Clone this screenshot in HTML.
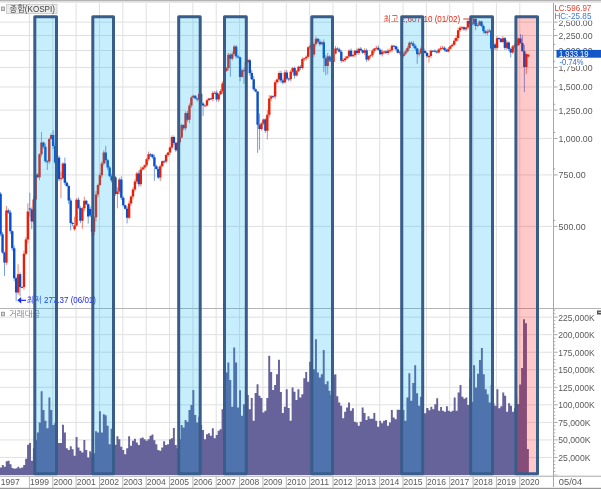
<!DOCTYPE html>
<html lang="ko"><head><meta charset="utf-8"><title>KOSPI</title>
<style>html,body{margin:0;padding:0;background:#fff;overflow:hidden}svg{display:block}</style></head>
<body>
<svg width="601" height="489" viewBox="0 0 601 489" style="display:block">
<defs><filter id="ga" filterUnits="userSpaceOnUse" x="0" y="0" width="601" height="489"><feOffset dx="0" dy="0"/></filter></defs>
<g filter="url(#ga)">
<rect x="0" y="0" width="601" height="489" fill="#fff"/>
<rect x="0" y="0" width="601" height="1.4" fill="#b4b4b4"/>
<rect x="0" y="1.4" width="601" height="1.3" fill="#dedede"/>
<rect x="0" y="487.8" width="601" height="1.2" fill="#989898"/>
<line x1="0" y1="22.15" x2="552" y2="22.15" stroke="#e0e0e0" stroke-width="1"/>
<line x1="0" y1="35.52" x2="552" y2="35.52" stroke="#e0e0e0" stroke-width="1"/>
<line x1="0" y1="50.47" x2="552" y2="50.47" stroke="#e0e0e0" stroke-width="1"/>
<line x1="0" y1="67.41" x2="552" y2="67.41" stroke="#e0e0e0" stroke-width="1"/>
<line x1="0" y1="86.97" x2="552" y2="86.97" stroke="#e0e0e0" stroke-width="1"/>
<line x1="0" y1="110.11" x2="552" y2="110.11" stroke="#e0e0e0" stroke-width="1"/>
<line x1="0" y1="138.43" x2="552" y2="138.43" stroke="#e0e0e0" stroke-width="1"/>
<line x1="0" y1="174.93" x2="552" y2="174.93" stroke="#e0e0e0" stroke-width="1"/>
<line x1="0" y1="226.39" x2="552" y2="226.39" stroke="#e0e0e0" stroke-width="1"/>
<line x1="0" y1="457.46" x2="552" y2="457.46" stroke="#e0e0e0" stroke-width="1"/>
<line x1="0" y1="439.92" x2="552" y2="439.92" stroke="#e0e0e0" stroke-width="1"/>
<line x1="0" y1="422.38" x2="552" y2="422.38" stroke="#e0e0e0" stroke-width="1"/>
<line x1="0" y1="404.84" x2="552" y2="404.84" stroke="#e0e0e0" stroke-width="1"/>
<line x1="0" y1="387.3" x2="552" y2="387.3" stroke="#e0e0e0" stroke-width="1"/>
<line x1="0" y1="369.76" x2="552" y2="369.76" stroke="#e0e0e0" stroke-width="1"/>
<line x1="0" y1="352.22" x2="552" y2="352.22" stroke="#e0e0e0" stroke-width="1"/>
<line x1="0" y1="334.68" x2="552" y2="334.68" stroke="#e0e0e0" stroke-width="1"/>
<line x1="0" y1="317.14" x2="552" y2="317.14" stroke="#e0e0e0" stroke-width="1"/>
<line x1="29.4" y1="3" x2="29.4" y2="475" stroke="#e0e0e0" stroke-width="1"/>
<line x1="52.8" y1="3" x2="52.8" y2="475" stroke="#e0e0e0" stroke-width="1"/>
<line x1="76.1" y1="3" x2="76.1" y2="475" stroke="#e0e0e0" stroke-width="1"/>
<line x1="99.5" y1="3" x2="99.5" y2="475" stroke="#e0e0e0" stroke-width="1"/>
<line x1="122.8" y1="3" x2="122.8" y2="475" stroke="#e0e0e0" stroke-width="1"/>
<line x1="146.2" y1="3" x2="146.2" y2="475" stroke="#e0e0e0" stroke-width="1"/>
<line x1="169.5" y1="3" x2="169.5" y2="475" stroke="#e0e0e0" stroke-width="1"/>
<line x1="192.9" y1="3" x2="192.9" y2="475" stroke="#e0e0e0" stroke-width="1"/>
<line x1="216.2" y1="3" x2="216.2" y2="475" stroke="#e0e0e0" stroke-width="1"/>
<line x1="239.6" y1="3" x2="239.6" y2="475" stroke="#e0e0e0" stroke-width="1"/>
<line x1="262.9" y1="3" x2="262.9" y2="475" stroke="#e0e0e0" stroke-width="1"/>
<line x1="286.3" y1="3" x2="286.3" y2="475" stroke="#e0e0e0" stroke-width="1"/>
<line x1="309.6" y1="3" x2="309.6" y2="475" stroke="#e0e0e0" stroke-width="1"/>
<line x1="333.0" y1="3" x2="333.0" y2="475" stroke="#e0e0e0" stroke-width="1"/>
<line x1="356.3" y1="3" x2="356.3" y2="475" stroke="#e0e0e0" stroke-width="1"/>
<line x1="379.7" y1="3" x2="379.7" y2="475" stroke="#e0e0e0" stroke-width="1"/>
<line x1="403.0" y1="3" x2="403.0" y2="475" stroke="#e0e0e0" stroke-width="1"/>
<line x1="426.4" y1="3" x2="426.4" y2="475" stroke="#e0e0e0" stroke-width="1"/>
<line x1="449.7" y1="3" x2="449.7" y2="475" stroke="#e0e0e0" stroke-width="1"/>
<line x1="473.1" y1="3" x2="473.1" y2="475" stroke="#e0e0e0" stroke-width="1"/>
<line x1="496.4" y1="3" x2="496.4" y2="475" stroke="#e0e0e0" stroke-width="1"/>
<line x1="519.8" y1="3" x2="519.8" y2="475" stroke="#e0e0e0" stroke-width="1"/>
<path d="M0.00 475V467.5H1.86V475ZM1.86 475V465.0H3.80V475ZM3.80 475V466.7H5.74V475ZM5.74 475V461.3H7.68V475ZM7.68 475V460.8H9.62V475ZM9.62 475V464.2H11.57V475ZM11.57 475V468.0H13.51V475ZM13.51 475V468.8H15.45V475ZM15.45 475V468.3H17.39V475ZM17.39 475V466.7H19.33V475ZM19.33 475V468.3H21.27V475ZM21.27 475V467.5H23.21V475ZM23.21 475V465.0H25.15V475ZM25.15 475V458.7H27.09V475ZM27.09 475V444.7H29.03V475ZM29.03 475V443.0H30.97V475ZM30.97 475V460.8H32.91V475ZM32.91 475V448.3H34.85V475ZM34.85 475V440.0H36.79V475ZM36.79 475V432.5H38.73V475ZM38.73 475V422.5H40.67V475ZM40.67 475V391.3H42.61V475ZM42.61 475V410.0H44.55V475ZM44.55 475V420.8H46.49V475ZM46.49 475V428.3H48.43V475ZM48.43 475V397.5H50.38V475ZM50.38 475V410.0H52.32V475ZM52.32 475V425.0H54.26V475ZM54.26 475V423.3H56.20V475ZM56.20 475V443.0H58.14V475ZM58.14 475V443.0H60.08V475ZM60.08 475V443.0H62.02V475ZM62.02 475V424.7H63.96V475ZM63.96 475V432.5H65.90V475ZM65.90 475V448.3H67.84V475ZM67.84 475V450.0H69.78V475ZM69.78 475V446.3H71.72V475ZM71.72 475V449.2H73.66V475ZM73.66 475V455.8H75.60V475ZM75.60 475V437.0H77.54V475ZM77.54 475V447.5H79.49V475ZM79.49 475V450.8H81.43V475ZM81.43 475V452.5H83.38V475ZM83.38 475V440.0H85.32V475ZM85.32 475V450.0H87.27V475ZM87.27 475V457.5H89.22V475ZM89.22 475V451.3H91.16V475ZM91.16 475V453.3H93.11V475ZM93.11 475V453.3H95.05V475ZM95.05 475V431.3H97.00V475ZM97.00 475V432.5H98.95V475ZM98.95 475V411.3H100.89V475ZM100.89 475V432.5H102.84V475ZM102.84 475V414.2H104.79V475ZM104.79 475V415.3H106.73V475ZM106.73 475V425.8H108.68V475ZM108.68 475V444.2H110.62V475ZM110.62 475V428.7H112.57V475ZM112.57 475V443.3H114.52V475ZM114.52 475V444.7H116.46V475ZM116.46 475V436.3H118.41V475ZM118.41 475V439.2H120.35V475ZM120.35 475V446.7H122.30V475ZM122.30 475V450.0H124.25V475ZM124.25 475V454.2H126.19V475ZM126.19 475V448.3H128.14V475ZM128.14 475V436.3H130.08V475ZM130.08 475V445.8H132.03V475ZM132.03 475V440.8H133.98V475ZM133.98 475V438.7H135.92V475ZM135.92 475V442.5H137.87V475ZM137.87 475V445.0H139.82V475ZM139.82 475V438.3H141.76V475ZM141.76 475V437.5H143.71V475ZM143.71 475V439.2H145.65V475ZM145.65 475V440.8H147.60V475ZM147.60 475V439.2H149.55V475ZM149.55 475V435.8H151.49V475ZM151.49 475V434.5H153.44V475ZM153.44 475V440.3H155.38V475ZM155.38 475V444.2H157.33V475ZM157.33 475V450.0H159.28V475ZM159.28 475V450.8H161.22V475ZM161.22 475V447.5H163.17V475ZM163.17 475V441.3H165.11V475ZM165.11 475V445.0H167.06V475ZM167.06 475V444.2H169.01V475ZM169.01 475V439.2H170.95V475ZM170.95 475V438.3H172.90V475ZM172.90 475V428.0H174.85V475ZM174.85 475V445.0H176.79V475ZM176.79 475V448.3H178.74V475ZM178.74 475V439.2H180.68V475ZM180.68 475V425.0H182.63V475ZM182.63 475V427.5H184.58V475ZM184.58 475V420.0H186.52V475ZM186.52 475V421.7H188.47V475ZM188.47 475V410.0H190.41V475ZM190.41 475V405.0H192.36V475ZM192.36 475V390.0H194.31V475ZM194.31 475V415.0H196.25V475ZM196.25 475V422.5H198.20V475ZM198.20 475V416.7H200.14V475ZM200.14 475V425.0H202.09V475ZM202.09 475V430.0H204.04V475ZM204.04 475V439.2H205.98V475ZM205.98 475V434.2H207.93V475ZM207.93 475V433.3H209.88V475ZM209.88 475V435.8H211.82V475ZM211.82 475V428.3H213.77V475ZM213.77 475V438.3H215.71V475ZM215.71 475V435.0H217.66V475ZM217.66 475V430.8H219.61V475ZM219.61 475V429.2H221.55V475ZM221.55 475V409.2H223.50V475ZM223.50 475V395.0H225.44V475ZM225.44 475V372.5H227.39V475ZM227.39 475V362.5H229.34V475ZM229.34 475V380.0H231.28V475ZM231.28 475V406.7H233.23V475ZM233.23 475V347.5H235.17V475ZM235.17 475V362.5H237.12V475ZM237.12 475V407.5H239.07V475ZM239.07 475V390.3H241.01V475ZM241.01 475V415.8H242.96V475ZM242.96 475V404.2H244.91V475ZM244.91 475V390.8H246.85V475ZM246.85 475V395.0H248.80V475ZM248.80 475V409.2H250.74V475ZM250.74 475V398.0H252.69V475ZM252.69 475V420.8H254.64V475ZM254.64 475V393.0H256.58V475ZM256.58 475V384.2H258.53V475ZM258.53 475V395.8H260.47V475ZM260.47 475V398.0H262.42V475ZM262.42 475V412.5H264.37V475ZM264.37 475V410.8H266.31V475ZM266.31 475V398.0H268.26V475ZM268.26 475V355.8H270.21V475ZM270.21 475V372.0H272.15V475ZM272.15 475V390.0H274.10V475ZM274.10 475V385.0H276.04V475ZM276.04 475V374.2H277.99V475ZM277.99 475V359.7H279.94V475ZM279.94 475V392.0H281.88V475ZM281.88 475V413.0H283.83V475ZM283.83 475V406.7H285.77V475ZM285.77 475V389.2H287.72V475ZM287.72 475V408.0H289.67V475ZM289.67 475V420.8H291.61V475ZM291.61 475V387.5H293.56V475ZM293.56 475V391.7H295.50V475ZM295.50 475V400.0H297.45V475ZM297.45 475V389.2H299.40V475ZM299.40 475V397.5H301.34V475ZM301.34 475V394.2H303.29V475ZM303.29 475V378.3H305.24V475ZM305.24 475V372.0H307.18V475ZM307.18 475V381.7H309.13V475ZM309.13 475V361.7H311.07V475ZM311.07 475V358.3H313.02V475ZM313.02 475V369.2H314.97V475ZM314.97 475V339.2H316.91V475ZM316.91 475V372.5H318.86V475ZM318.86 475V377.5H320.80V475ZM320.80 475V374.2H322.75V475ZM322.75 475V350.0H324.70V475ZM324.70 475V384.2H326.64V475ZM326.64 475V381.3H328.59V475ZM328.59 475V390.8H330.53V475ZM330.53 475V395.0H332.48V475ZM332.48 475V375.0H334.43V475ZM334.43 475V374.2H336.37V475ZM336.37 475V396.3H338.32V475ZM338.32 475V402.5H340.27V475ZM340.27 475V405.8H342.21V475ZM342.21 475V418.3H344.16V475ZM344.16 475V411.7H346.10V475ZM346.10 475V407.5H348.05V475ZM348.05 475V402.5H350.00V475ZM350.00 475V410.8H351.94V475ZM351.94 475V408.3H353.89V475ZM353.89 475V421.7H355.83V475ZM355.83 475V422.5H357.78V475ZM357.78 475V425.8H359.73V475ZM359.73 475V421.7H361.67V475ZM361.67 475V407.5H363.62V475ZM363.62 475V413.0H365.56V475ZM365.56 475V420.0H367.51V475ZM367.51 475V416.3H369.46V475ZM369.46 475V418.7H371.40V475ZM371.40 475V418.7H373.35V475ZM373.35 475V413.0H375.30V475ZM375.30 475V420.8H377.24V475ZM377.24 475V426.7H379.19V475ZM379.19 475V420.8H381.13V475ZM381.13 475V423.3H383.08V475ZM383.08 475V420.8H385.03V475ZM385.03 475V420.0H386.97V475ZM386.97 475V425.8H388.92V475ZM388.92 475V422.5H390.86V475ZM390.86 475V410.0H392.81V475ZM392.81 475V417.5H394.76V475ZM394.76 475V419.2H396.70V475ZM396.70 475V409.7H398.65V475ZM398.65 475V409.7H400.60V475ZM400.60 475V410.0H402.54V475ZM402.54 475V410.0H404.49V475ZM404.49 475V420.8H406.43V475ZM406.43 475V397.5H408.38V475ZM408.38 475V373.3H410.33V475ZM410.33 475V400.8H412.27V475ZM412.27 475V383.0H414.22V475ZM414.22 475V365.3H416.16V475ZM416.16 475V393.3H418.11V475ZM418.11 475V405.8H420.06V475ZM420.06 475V396.7H422.00V475ZM422.00 475V405.0H423.95V475ZM423.95 475V413.3H426.20V475ZM426.20 475V408.0H428.44V475ZM428.44 475V410.3H430.39V475ZM430.39 475V406.7H432.33V475ZM432.33 475V409.2H434.27V475ZM434.27 475V404.2H436.22V475ZM436.22 475V398.3H438.16V475ZM438.16 475V410.8H440.10V475ZM440.10 475V407.0H442.04V475ZM442.04 475V410.8H443.99V475ZM443.99 475V411.7H445.93V475ZM445.93 475V406.3H447.87V475ZM447.87 475V410.8H449.82V475ZM449.82 475V411.7H451.76V475ZM451.76 475V410.8H453.70V475ZM453.70 475V397.5H455.65V475ZM455.65 475V410.8H457.59V475ZM457.59 475V392.5H459.53V475ZM459.53 475V385.0H461.47V475ZM461.47 475V396.7H463.42V475ZM463.42 475V398.7H465.36V475ZM465.36 475V397.5H467.30V475ZM467.30 475V405.0H469.25V475ZM469.25 475V378.3H471.19V475ZM471.19 475V401.7H473.13V475ZM473.13 475V365.3H475.08V475ZM475.08 475V387.5H477.02V475ZM477.02 475V373.7H478.96V475ZM478.96 475V360.0H480.90V475ZM480.90 475V348.0H482.85V475ZM482.85 475V374.2H484.79V475ZM484.79 475V389.2H486.73V475ZM486.73 475V394.2H488.68V475ZM488.68 475V402.5H490.62V475ZM490.62 475V385.0H492.56V475ZM492.56 475V403.3H494.51V475ZM494.51 475V405.8H496.45V475ZM496.45 475V389.2H498.39V475ZM498.39 475V408.3H500.33V475ZM500.33 475V406.3H502.28V475ZM502.28 475V392.5H504.22V475ZM504.22 475V395.8H506.16V475ZM506.16 475V411.7H508.11V475ZM508.11 475V403.3H510.05V475ZM510.05 475V405.8H511.99V475ZM511.99 475V411.7H513.94V475ZM513.94 475V408.3H515.58V475ZM515.58 475V397.0H517.22V475ZM517.22 475V404.0H519.16V475ZM519.16 475V384.6H521.11V475ZM521.11 475V368.0H523.05V475ZM523.05 475V319.2H524.99V475ZM524.99 475V323.2H526.94V475ZM526.94 475V449.0H528.88V475Z" fill="#66629a"/>
<path d="M0.59 192.1V236.2M2.54 232.1V254.0M4.49 251.6V276.1" stroke="#0a4fc8" stroke-opacity="0.55" fill="none"/><path d="M-0.61 193.7H1.79V234.2H-0.61ZM1.34 234.2H3.74V252.5H1.34ZM3.29 252.5H5.69V262.6H3.29Z" fill="#0a4fc8"/>
<path d="M6.44 206.0V264.9" stroke="#e6200a" stroke-opacity="0.55" fill="none"/><path d="M5.24 210.4H7.64V262.6H5.24Z" fill="#e6200a"/>
<path d="M8.38 208.6V214.0M10.33 210.1V234.0M12.28 230.4V250.8M14.22 245.6V281.2M16.17 276.8V301.2" stroke="#0a4fc8" stroke-opacity="0.55" fill="none"/><path d="M7.18 210.4H9.58V212.5H7.18ZM9.13 212.5H11.53V231.3H9.13ZM11.08 231.3H13.48V248.2H11.08ZM13.02 248.2H15.42V278.3H13.02ZM14.97 278.3H17.37V292.5H14.97Z" fill="#0a4fc8"/>
<path d="M18.12 264.3V294.9" stroke="#e6200a" stroke-opacity="0.55" fill="none"/><path d="M16.92 274.2H19.32V292.5H16.92Z" fill="#e6200a"/>
<path d="M20.07 272.5V296.4" stroke="#0a4fc8" stroke-opacity="0.55" fill="none"/><path d="M18.87 274.2H21.27V287.1H18.87Z" fill="#0a4fc8"/>
<path d="M22.01 286.2V288.4M23.96 250.7V289.9M25.91 237.0V255.3M27.85 203.3V243.5" stroke="#e6200a" stroke-opacity="0.55" fill="none"/><path d="M20.81 287.1H23.21V288.1H20.81ZM22.76 253.8H25.16V287.1H22.76ZM24.71 239.5H27.11V253.8H24.71ZM26.65 211.6H29.05V239.5H26.65Z" fill="#e6200a"/>
<path d="M29.80 192.7V216.6M31.75 207.4V229.2" stroke="#0a4fc8" stroke-opacity="0.55" fill="none"/><path d="M28.60 208.4H31.00V209.5H28.60ZM30.55 209.5H32.95V221.4H30.55Z" fill="#0a4fc8"/>
<path d="M33.69 196.4V223.9M35.64 169.8V202.4" stroke="#e6200a" stroke-opacity="0.55" fill="none"/><path d="M32.49 199.5H34.89V221.4H32.49ZM34.44 174.6H36.84V199.5H34.44Z" fill="#e6200a"/>
<path d="M37.59 173.3V177.9" stroke="#0a4fc8" stroke-opacity="0.55" fill="none"/><path d="M36.39 174.6H38.79V177.3H36.39Z" fill="#0a4fc8"/>
<path d="M39.53 153.2V180.2M41.48 132.0V156.7" stroke="#e6200a" stroke-opacity="0.55" fill="none"/><path d="M38.33 154.2H40.73V177.3H38.33ZM40.28 142.4H42.68V154.2H40.28Z" fill="#e6200a"/>
<path d="M43.43 141.7V148.6M45.38 143.4V162.8M47.32 160.1V170.0" stroke="#0a4fc8" stroke-opacity="0.55" fill="none"/><path d="M42.23 142.4H44.63V146.7H42.23ZM44.18 146.7H46.58V161.2H44.18ZM46.12 161.2H48.52V162.2H46.12Z" fill="#0a4fc8"/>
<path d="M49.27 137.5V163.9M51.22 133.3V139.5" stroke="#e6200a" stroke-opacity="0.55" fill="none"/><path d="M48.07 138.9H50.47V161.6H48.07ZM50.02 134.9H52.42V138.9H50.02Z" fill="#e6200a"/>
<path d="M53.16 130.3V149.0M55.11 143.4V164.2" stroke="#0a4fc8" stroke-opacity="0.55" fill="none"/><path d="M51.96 134.9H54.36V145.9H51.96ZM53.91 145.9H56.31V162.4H53.91Z" fill="#0a4fc8"/>
<path d="M57.06 155.0V164.9" stroke="#e6200a" stroke-opacity="0.55" fill="none"/><path d="M55.86 157.6H58.26V162.4H55.86Z" fill="#e6200a"/>
<path d="M59.01 155.5V181.3" stroke="#0a4fc8" stroke-opacity="0.55" fill="none"/><path d="M57.80 157.6H60.21V179.2H57.80Z" fill="#0a4fc8"/>
<path d="M60.95 171.6V198.1M62.90 162.3V178.9" stroke="#e6200a" stroke-opacity="0.55" fill="none"/><path d="M59.75 178.2H62.15V179.2H59.75ZM61.70 163.5H64.10V178.2H61.70Z" fill="#e6200a"/>
<path d="M64.85 157.6V185.1M66.79 181.2V186.9M68.74 184.6V204.2M70.69 198.1V230.5M72.63 221.8V226.1" stroke="#0a4fc8" stroke-opacity="0.55" fill="none"/><path d="M63.65 163.5H66.05V182.8H63.65ZM65.59 182.8H67.99V185.9H65.59ZM67.54 185.9H69.94V200.5H67.54ZM69.49 200.5H71.89V222.9H69.49ZM71.43 222.9H73.83V224.1H71.43Z" fill="#0a4fc8"/>
<path d="M74.58 216.6V230.8M76.53 198.2V226.4" stroke="#e6200a" stroke-opacity="0.55" fill="none"/><path d="M73.38 225.4H75.78V229.2H73.38ZM75.33 199.7H77.73V225.4H75.33Z" fill="#e6200a"/>
<path d="M78.48 197.5V209.2M80.42 206.2V223.2" stroke="#0a4fc8" stroke-opacity="0.55" fill="none"/><path d="M77.28 199.7H79.68V208.0H77.28ZM79.22 208.0H81.62V220.7H79.22Z" fill="#0a4fc8"/>
<path d="M82.37 206.9V228.7M84.32 196.7V210.9" stroke="#e6200a" stroke-opacity="0.55" fill="none"/><path d="M81.17 208.2H83.57V220.7H81.17ZM83.12 200.7H85.52V208.2H83.12Z" fill="#e6200a"/>
<path d="M86.26 199.7V205.4M88.21 203.5V223.6M90.16 206.5V217.1M92.10 212.6V236.1" stroke="#0a4fc8" stroke-opacity="0.55" fill="none"/><path d="M85.06 200.7H87.46V204.3H85.06ZM87.01 204.3H89.41V216.4H87.01ZM88.96 208.9H91.36V215.5H88.96ZM90.90 215.5H93.30V231.8H90.90Z" fill="#0a4fc8"/>
<path d="M94.05 216.2V235.1M96.00 191.1V221.4M97.94 183.6V197.5M99.89 172.9V186.7M101.84 161.4V178.1M103.79 150.1V165.6" stroke="#e6200a" stroke-opacity="0.55" fill="none"/><path d="M92.85 217.3H95.25V231.8H92.85ZM94.80 194.5H97.20V217.3H94.80ZM96.74 185.0H99.14V194.5H96.74ZM98.69 175.3H101.09V185.0H98.69ZM100.64 163.6H103.04V175.3H100.64ZM102.59 152.5H104.99V163.6H102.59Z" fill="#e6200a"/>
<path d="M105.73 145.9V163.6M107.68 158.9V170.2M109.63 165.8V176.9M111.57 173.8V182.5" stroke="#0a4fc8" stroke-opacity="0.55" fill="none"/><path d="M104.53 152.5H106.93V160.3H104.53ZM106.48 160.3H108.88V167.4H106.48ZM108.43 167.4H110.83V176.3H108.43ZM110.37 176.3H112.77V180.6H110.37Z" fill="#0a4fc8"/>
<path d="M113.52 175.8V182.7" stroke="#e6200a" stroke-opacity="0.55" fill="none"/><path d="M112.32 177.3H114.72V180.6H112.32Z" fill="#e6200a"/>
<path d="M115.47 175.9V195.8" stroke="#0a4fc8" stroke-opacity="0.55" fill="none"/><path d="M114.27 177.3H116.67V193.9H114.27Z" fill="#0a4fc8"/>
<path d="M117.42 187.4V208.4M119.36 177.7V194.4" stroke="#e6200a" stroke-opacity="0.55" fill="none"/><path d="M116.22 191.5H118.62V193.9H116.22ZM118.16 179.4H120.56V191.5H118.16Z" fill="#e6200a"/>
<path d="M121.31 176.4V200.1M123.26 196.3V206.6M125.20 204.5V209.6M127.15 206.3V223.4" stroke="#0a4fc8" stroke-opacity="0.55" fill="none"/><path d="M120.11 179.4H122.51V197.7H120.11ZM122.06 197.7H124.46V205.2H122.06ZM124.00 205.2H126.40V208.7H124.00ZM125.95 208.7H128.35V217.8H125.95Z" fill="#0a4fc8"/>
<path d="M129.10 200.6V219.4M131.04 195.4V205.8M132.99 187.3V199.0M134.94 179.3V191.5M136.89 171.7V183.6" stroke="#e6200a" stroke-opacity="0.55" fill="none"/><path d="M127.90 203.5H130.30V217.8H127.90ZM129.84 196.5H132.24V203.5H129.84ZM131.79 189.4H134.19V196.5H131.79ZM133.74 181.4H136.14V189.4H133.74ZM135.69 173.4H138.09V181.4H135.69Z" fill="#e6200a"/>
<path d="M138.83 170.6V186.8" stroke="#0a4fc8" stroke-opacity="0.55" fill="none"/><path d="M137.63 173.4H140.03V184.2H137.63Z" fill="#0a4fc8"/>
<path d="M140.78 166.5V186.5M142.73 166.6V170.2M144.67 164.5V169.5M146.62 158.2V166.9M148.57 151.6V160.8" stroke="#e6200a" stroke-opacity="0.55" fill="none"/><path d="M139.58 169.6H141.98V184.2H139.58ZM141.53 167.4H143.93V169.6H141.53ZM143.47 165.2H145.87V167.4H143.47ZM145.42 159.3H147.82V165.2H145.42ZM147.37 154.2H149.77V159.3H147.37Z" fill="#e6200a"/>
<path d="M150.51 153.1V157.0M152.46 153.8V158.7M154.41 154.6V180.8M156.36 164.7V169.7M158.30 167.1V179.0" stroke="#0a4fc8" stroke-opacity="0.55" fill="none"/><path d="M149.31 154.2H151.71V155.2H149.31ZM151.26 154.6H153.66V157.3H151.26ZM153.21 157.3H155.61V166.3H153.21ZM155.16 166.3H157.56V169.1H155.16ZM157.10 169.1H159.50V177.5H157.10Z" fill="#0a4fc8"/>
<path d="M160.25 164.4V181.0M162.20 160.4V167.2" stroke="#e6200a" stroke-opacity="0.55" fill="none"/><path d="M159.05 166.3H161.45V177.5H159.05ZM161.00 161.3H163.40V166.3H161.00Z" fill="#e6200a"/>
<path d="M164.14 160.1V163.4" stroke="#0a4fc8" stroke-opacity="0.55" fill="none"/><path d="M162.94 161.3H165.34V162.3H162.94Z" fill="#0a4fc8"/>
<path d="M166.09 153.5V163.5M168.04 151.9V156.8M169.98 146.3V154.6M171.93 135.4V149.0" stroke="#e6200a" stroke-opacity="0.55" fill="none"/><path d="M164.89 154.9H167.29V161.5H164.89ZM166.84 152.5H169.24V154.9H166.84ZM168.78 147.4H171.18V152.5H168.78ZM170.73 137.0H173.13V147.4H170.73Z" fill="#e6200a"/>
<path d="M173.88 135.6V145.0M175.83 142.0V151.9" stroke="#0a4fc8" stroke-opacity="0.55" fill="none"/><path d="M172.68 137.0H175.08V142.9H172.68ZM174.63 142.9H177.03V150.3H174.63Z" fill="#0a4fc8"/>
<path d="M177.77 141.5V150.9M179.72 136.3V144.3M181.67 123.5V138.5" stroke="#e6200a" stroke-opacity="0.55" fill="none"/><path d="M176.57 142.3H178.97V150.3H176.57ZM178.52 137.4H180.92V142.3H178.52ZM180.47 125.1H182.87V137.4H180.47Z" fill="#e6200a"/>
<path d="M183.61 124.2V130.3" stroke="#0a4fc8" stroke-opacity="0.55" fill="none"/><path d="M182.41 125.1H184.81V128.3H182.41Z" fill="#0a4fc8"/>
<path d="M185.56 111.4V130.7" stroke="#e6200a" stroke-opacity="0.55" fill="none"/><path d="M184.36 113.1H186.76V128.3H184.36Z" fill="#e6200a"/>
<path d="M187.51 110.8V121.8" stroke="#0a4fc8" stroke-opacity="0.55" fill="none"/><path d="M186.31 113.1H188.71V119.8H186.31Z" fill="#0a4fc8"/>
<path d="M189.45 103.4V123.3M191.40 95.8V107.8M193.35 94.6V98.2" stroke="#e6200a" stroke-opacity="0.55" fill="none"/><path d="M188.25 105.4H190.65V119.8H188.25ZM190.20 97.6H192.60V105.4H190.20ZM192.15 95.8H194.55V97.6H192.15Z" fill="#e6200a"/>
<path d="M195.30 95.1V99.3M197.24 97.7V101.6" stroke="#0a4fc8" stroke-opacity="0.55" fill="none"/><path d="M194.10 95.8H196.50V98.4H194.10ZM196.04 98.4H198.44V99.5H196.04Z" fill="#0a4fc8"/>
<path d="M199.19 92.9V100.8" stroke="#e6200a" stroke-opacity="0.55" fill="none"/><path d="M197.99 94.0H200.39V99.5H197.99Z" fill="#e6200a"/>
<path d="M201.14 92.9V105.4M203.08 102.2V116.1" stroke="#0a4fc8" stroke-opacity="0.55" fill="none"/><path d="M199.94 94.0H202.34V103.5H199.94ZM201.88 103.5H204.28V105.6H201.88Z" fill="#0a4fc8"/>
<path d="M205.03 104.5V106.0M206.98 98.6V106.5M208.92 97.9V100.8" stroke="#e6200a" stroke-opacity="0.55" fill="none"/><path d="M203.83 105.4H206.23V106.4H203.83ZM205.78 100.2H208.18V105.4H205.78ZM207.72 98.4H210.12V100.2H207.72Z" fill="#e6200a"/>
<path d="M210.87 97.9V100.0" stroke="#0a4fc8" stroke-opacity="0.55" fill="none"/><path d="M209.67 98.4H212.07V99.4H209.67Z" fill="#0a4fc8"/>
<path d="M212.82 91.0V101.4M214.77 90.9V94.0" stroke="#e6200a" stroke-opacity="0.55" fill="none"/><path d="M211.62 92.9H214.02V99.0H211.62ZM213.57 92.7H215.97V93.7H213.57Z" fill="#e6200a"/>
<path d="M216.71 90.3V101.7" stroke="#0a4fc8" stroke-opacity="0.55" fill="none"/><path d="M215.51 92.7H217.91V99.4H215.51Z" fill="#0a4fc8"/>
<path d="M218.66 93.2V101.9M220.61 89.0V95.0M222.55 81.4V93.8M224.50 68.2V86.3M226.45 67.1V71.9M228.39 52.8V70.4" stroke="#e6200a" stroke-opacity="0.55" fill="none"/><path d="M217.46 94.2H219.86V99.4H217.46ZM219.41 91.1H221.81V94.2H219.41ZM221.35 83.5H223.75V91.1H221.35ZM223.30 71.1H225.70V83.5H223.30ZM225.25 67.9H227.65V71.1H225.25ZM227.19 54.8H229.59V67.9H227.19Z" fill="#e6200a"/>
<path d="M230.34 53.0V76.7" stroke="#0a4fc8" stroke-opacity="0.55" fill="none"/><path d="M229.14 54.8H231.54V58.8H229.14Z" fill="#0a4fc8"/>
<path d="M232.29 51.6V60.5M234.24 44.8V56.0" stroke="#e6200a" stroke-opacity="0.55" fill="none"/><path d="M231.09 53.9H233.49V58.8H231.09ZM233.04 46.5H235.44V53.9H233.04Z" fill="#e6200a"/>
<path d="M236.18 45.2V58.6M238.13 54.7V58.5M240.08 56.6V81.2" stroke="#0a4fc8" stroke-opacity="0.55" fill="none"/><path d="M234.98 46.5H237.38V56.6H234.98ZM236.93 56.6H239.33V57.6H236.93ZM238.88 57.2H241.28V76.9H238.88Z" fill="#0a4fc8"/>
<path d="M242.02 68.6V77.8" stroke="#e6200a" stroke-opacity="0.55" fill="none"/><path d="M240.82 70.3H243.22V76.9H240.82Z" fill="#e6200a"/>
<path d="M243.97 67.8V83.9" stroke="#0a4fc8" stroke-opacity="0.55" fill="none"/><path d="M242.77 70.3H245.17V71.3H242.77Z" fill="#0a4fc8"/>
<path d="M245.92 61.3V73.3M247.86 58.5V63.6" stroke="#e6200a" stroke-opacity="0.55" fill="none"/><path d="M244.72 62.1H247.12V70.9H244.72ZM246.66 60.2H249.06V62.1H246.66Z" fill="#e6200a"/>
<path d="M249.81 58.8V75.4M251.76 70.2V80.0M253.71 76.2V90.7M255.65 88.2V92.4M257.60 91.3V152.9M259.55 113.5V149.8" stroke="#0a4fc8" stroke-opacity="0.55" fill="none"/><path d="M248.61 60.2H251.01V73.0H248.61ZM250.56 73.0H252.96V79.3H250.56ZM252.51 79.3H254.91V89.2H252.51ZM254.45 89.2H256.85V91.5H254.45ZM256.40 91.5H258.80V124.8H256.40ZM258.35 124.8H260.75V129.1H258.35Z" fill="#0a4fc8"/>
<path d="M261.49 122.2V130.5M263.44 118.7V125.0" stroke="#e6200a" stroke-opacity="0.55" fill="none"/><path d="M260.29 123.6H262.69V129.1H260.29ZM262.24 119.4H264.64V123.6H262.24Z" fill="#e6200a"/>
<path d="M265.39 118.3V132.8" stroke="#0a4fc8" stroke-opacity="0.55" fill="none"/><path d="M264.19 119.4H266.59V130.7H264.19Z" fill="#0a4fc8"/>
<path d="M267.33 110.1V139.4M269.28 95.0V117.4M271.23 95.0V101.0" stroke="#e6200a" stroke-opacity="0.55" fill="none"/><path d="M266.13 114.7H268.53V130.7H266.13ZM268.08 98.6H270.48V114.7H268.08ZM270.03 96.2H272.43V98.6H270.03Z" fill="#e6200a"/>
<path d="M273.18 95.1V97.5" stroke="#0a4fc8" stroke-opacity="0.55" fill="none"/><path d="M271.98 96.2H274.38V97.2H271.98Z" fill="#0a4fc8"/>
<path d="M275.12 80.2V99.3M277.07 78.6V83.7M279.02 71.3V82.2" stroke="#e6200a" stroke-opacity="0.55" fill="none"/><path d="M273.92 82.2H276.32V96.6H273.92ZM275.87 79.5H278.27V82.2H275.87ZM277.82 73.1H280.22V79.5H277.82Z" fill="#e6200a"/>
<path d="M280.96 70.8V83.0M282.91 78.6V84.3" stroke="#0a4fc8" stroke-opacity="0.55" fill="none"/><path d="M279.76 73.1H282.16V80.4H279.76ZM281.71 80.4H284.11V82.4H281.71Z" fill="#0a4fc8"/>
<path d="M284.86 69.9V83.4" stroke="#e6200a" stroke-opacity="0.55" fill="none"/><path d="M283.66 72.4H286.06V82.4H283.66Z" fill="#e6200a"/>
<path d="M286.80 70.2V80.2M288.75 77.6V81.5" stroke="#0a4fc8" stroke-opacity="0.55" fill="none"/><path d="M285.60 72.4H288.00V78.6H285.60ZM287.55 78.6H289.95V79.6H287.55Z" fill="#0a4fc8"/>
<path d="M290.70 69.8V81.1M292.65 67.3V72.9" stroke="#e6200a" stroke-opacity="0.55" fill="none"/><path d="M289.50 71.7H291.90V79.3H289.50ZM291.45 68.1H293.85V71.7H291.45Z" fill="#e6200a"/>
<path d="M294.59 66.6V78.6" stroke="#0a4fc8" stroke-opacity="0.55" fill="none"/><path d="M293.39 68.1H295.79V75.6H293.39Z" fill="#0a4fc8"/>
<path d="M296.54 69.9V76.4M298.49 65.7V72.2" stroke="#e6200a" stroke-opacity="0.55" fill="none"/><path d="M295.34 71.2H297.74V75.6H295.34ZM297.29 66.8H299.69V71.2H297.29Z" fill="#e6200a"/>
<path d="M300.43 65.2V69.9" stroke="#0a4fc8" stroke-opacity="0.55" fill="none"/><path d="M299.23 66.8H301.63V68.0H299.23Z" fill="#0a4fc8"/>
<path d="M302.38 57.1V69.5M304.33 57.7V61.1M306.27 55.3V60.3M308.22 46.1V58.4M310.17 43.9V49.3" stroke="#e6200a" stroke-opacity="0.55" fill="none"/><path d="M301.18 58.9H303.58V68.0H301.18ZM303.13 58.2H305.53V59.2H303.13ZM305.07 56.7H307.47V58.2H305.07ZM307.02 47.3H309.42V56.7H307.02ZM308.97 46.2H311.37V47.3H308.97Z" fill="#e6200a"/>
<path d="M312.12 45.0V57.0" stroke="#0a4fc8" stroke-opacity="0.55" fill="none"/><path d="M310.92 46.2H313.31V54.4H310.92Z" fill="#0a4fc8"/>
<path d="M314.06 42.4V56.8M316.01 36.4V46.3" stroke="#e6200a" stroke-opacity="0.55" fill="none"/><path d="M312.86 43.9H315.26V54.4H312.86ZM314.81 38.8H317.21V43.9H314.81Z" fill="#e6200a"/>
<path d="M317.96 38.2V43.4M319.90 39.4V46.1" stroke="#0a4fc8" stroke-opacity="0.55" fill="none"/><path d="M316.76 38.8H319.16V41.8H316.76ZM318.70 41.8H321.10V44.3H318.70Z" fill="#0a4fc8"/>
<path d="M321.85 40.9V44.9" stroke="#e6200a" stroke-opacity="0.55" fill="none"/><path d="M320.65 42.3H323.05V44.3H320.65Z" fill="#e6200a"/>
<path d="M323.80 39.5V72.3M325.74 55.1V75.3" stroke="#0a4fc8" stroke-opacity="0.55" fill="none"/><path d="M322.60 42.3H325.00V58.3H322.60ZM324.54 58.3H326.94V66.0H324.54Z" fill="#0a4fc8"/>
<path d="M327.69 53.0V74.3" stroke="#e6200a" stroke-opacity="0.55" fill="none"/><path d="M326.49 56.4H328.89V66.0H326.49Z" fill="#e6200a"/>
<path d="M329.64 55.2V62.1M331.59 59.5V64.4" stroke="#0a4fc8" stroke-opacity="0.55" fill="none"/><path d="M328.44 56.4H330.84V60.6H328.44ZM330.39 60.6H332.79V62.1H330.39Z" fill="#0a4fc8"/>
<path d="M333.53 50.8V63.2M335.48 46.0V54.3" stroke="#e6200a" stroke-opacity="0.55" fill="none"/><path d="M332.33 53.4H334.73V62.1H332.33ZM334.28 48.6H336.68V53.4H334.28Z" fill="#e6200a"/>
<path d="M337.43 47.2V50.8M339.37 47.7V52.5M341.32 50.2V62.7" stroke="#0a4fc8" stroke-opacity="0.55" fill="none"/><path d="M336.23 48.6H338.63V49.6H336.23ZM338.17 49.6H340.57V51.7H338.17ZM340.12 51.7H342.52V60.8H340.12Z" fill="#0a4fc8"/>
<path d="M343.27 58.1V62.2M345.21 56.0V62.1M347.16 55.7V59.4M349.11 49.3V57.8" stroke="#e6200a" stroke-opacity="0.55" fill="none"/><path d="M342.07 60.1H344.47V61.1H342.07ZM344.01 58.3H346.41V60.1H344.01ZM345.96 56.6H348.36V58.3H345.96ZM347.91 50.7H350.31V56.6H347.91Z" fill="#e6200a"/>
<path d="M351.06 48.5V57.1" stroke="#0a4fc8" stroke-opacity="0.55" fill="none"/><path d="M349.86 50.7H352.25V56.2H349.86Z" fill="#0a4fc8"/>
<path d="M353.00 53.9V56.8M354.95 50.0V57.4" stroke="#e6200a" stroke-opacity="0.55" fill="none"/><path d="M351.80 54.9H354.20V56.2H351.80ZM353.75 50.7H356.15V54.9H353.75Z" fill="#e6200a"/>
<path d="M356.90 48.6V55.2" stroke="#0a4fc8" stroke-opacity="0.55" fill="none"/><path d="M355.70 50.7H358.10V53.0H355.70Z" fill="#0a4fc8"/>
<path d="M358.84 47.6V54.8" stroke="#e6200a" stroke-opacity="0.55" fill="none"/><path d="M357.64 48.8H360.04V53.0H357.64Z" fill="#e6200a"/>
<path d="M360.79 47.1V51.4M362.74 49.5V53.9" stroke="#0a4fc8" stroke-opacity="0.55" fill="none"/><path d="M359.59 48.8H361.99V50.2H359.59ZM361.54 50.2H363.94V52.8H361.54Z" fill="#0a4fc8"/>
<path d="M364.68 48.2V55.1" stroke="#e6200a" stroke-opacity="0.55" fill="none"/><path d="M363.48 50.4H365.88V52.8H363.48Z" fill="#e6200a"/>
<path d="M366.63 48.5V61.9" stroke="#0a4fc8" stroke-opacity="0.55" fill="none"/><path d="M365.43 50.4H367.83V59.5H365.43Z" fill="#0a4fc8"/>
<path d="M368.58 55.4V61.0M370.53 54.5V58.2M372.47 49.1V57.1M374.42 48.1V52.9M376.37 45.8V49.6" stroke="#e6200a" stroke-opacity="0.55" fill="none"/><path d="M367.38 56.0H369.78V59.5H367.38ZM369.33 55.3H371.73V56.3H369.33ZM371.27 50.7H373.67V55.3H371.27ZM373.22 48.6H375.62V50.7H373.22ZM375.17 47.7H377.57V48.7H375.17Z" fill="#e6200a"/>
<path d="M378.31 45.4V50.8M380.26 48.6V55.1" stroke="#0a4fc8" stroke-opacity="0.55" fill="none"/><path d="M377.11 47.7H379.51V49.8H377.11ZM379.06 49.8H381.46V54.3H379.06Z" fill="#0a4fc8"/>
<path d="M382.21 49.5V56.5M384.15 50.6V54.1" stroke="#e6200a" stroke-opacity="0.55" fill="none"/><path d="M381.01 51.8H383.41V54.3H381.01ZM382.95 51.4H385.35V52.4H382.95Z" fill="#e6200a"/>
<path d="M386.10 50.3V54.3" stroke="#0a4fc8" stroke-opacity="0.55" fill="none"/><path d="M384.90 51.4H387.30V53.0H384.90Z" fill="#0a4fc8"/>
<path d="M388.05 48.7V55.1M390.00 48.4V52.4M391.94 44.5V52.3" stroke="#e6200a" stroke-opacity="0.55" fill="none"/><path d="M386.85 50.8H389.25V53.0H386.85ZM388.80 50.3H391.19V51.3H388.80ZM390.74 45.7H393.14V50.3H390.74Z" fill="#e6200a"/>
<path d="M393.89 44.9V47.1M395.84 45.6V50.6M397.78 46.7V53.7" stroke="#0a4fc8" stroke-opacity="0.55" fill="none"/><path d="M392.69 45.7H395.09V46.7H392.69ZM394.64 46.2H397.04V49.2H394.64ZM396.58 49.2H398.98V52.8H396.58Z" fill="#0a4fc8"/>
<path d="M399.73 51.1V54.6" stroke="#e6200a" stroke-opacity="0.55" fill="none"/><path d="M398.53 51.7H400.93V52.8H398.53Z" fill="#e6200a"/>
<path d="M401.68 50.7V57.9" stroke="#0a4fc8" stroke-opacity="0.55" fill="none"/><path d="M400.48 51.7H402.88V56.0H400.48Z" fill="#0a4fc8"/>
<path d="M403.62 51.7V57.7M405.57 49.4V55.3M407.52 46.0V52.4M409.47 41.4V49.6" stroke="#e6200a" stroke-opacity="0.55" fill="none"/><path d="M402.42 53.7H404.82V56.0H402.42ZM404.37 51.4H406.77V53.7H404.37ZM406.32 47.9H408.72V51.4H406.32ZM408.27 42.7H410.67V47.9H408.27Z" fill="#e6200a"/>
<path d="M411.41 41.4V44.8M413.36 41.3V48.2M415.31 44.3V50.9M417.25 48.0V63.8" stroke="#0a4fc8" stroke-opacity="0.55" fill="none"/><path d="M410.21 42.7H412.61V43.7H410.21ZM412.16 43.4H414.56V45.9H412.16ZM414.11 45.9H416.51V48.6H414.11ZM416.05 48.6H418.45V54.3H416.05Z" fill="#0a4fc8"/>
<path d="M419.20 50.6V56.5M421.15 46.4V54.2" stroke="#e6200a" stroke-opacity="0.55" fill="none"/><path d="M418.00 52.9H420.40V54.3H418.00ZM419.95 48.6H422.35V52.9H419.95Z" fill="#e6200a"/>
<path d="M423.09 46.4V52.7M425.04 50.2V53.7M426.99 51.9V57.9" stroke="#0a4fc8" stroke-opacity="0.55" fill="none"/><path d="M421.89 48.6H424.29V51.0H421.89ZM423.84 51.0H426.24V53.0H423.84ZM425.79 53.0H428.19V56.2H425.79Z" fill="#0a4fc8"/>
<path d="M428.94 54.7V62.6M430.88 49.7V58.2" stroke="#e6200a" stroke-opacity="0.55" fill="none"/><path d="M427.74 55.9H430.13V56.9H427.74ZM429.68 50.8H432.08V55.9H429.68Z" fill="#e6200a"/>
<path d="M432.83 50.3V52.0M434.78 49.3V52.3M436.72 50.4V53.5" stroke="#0a4fc8" stroke-opacity="0.55" fill="none"/><path d="M431.63 50.8H434.03V51.8H431.63ZM433.58 50.8H435.98V51.8H433.58ZM435.52 51.6H437.92V52.6H435.52Z" fill="#0a4fc8"/>
<path d="M438.67 48.3V53.6M440.62 46.2V50.6M442.56 46.0V48.8" stroke="#e6200a" stroke-opacity="0.55" fill="none"/><path d="M437.47 49.5H439.87V52.4H437.47ZM439.42 48.3H441.82V49.5H439.42ZM441.36 47.8H443.76V48.8H441.36Z" fill="#e6200a"/>
<path d="M444.51 46.4V51.4M446.46 48.7V52.1" stroke="#0a4fc8" stroke-opacity="0.55" fill="none"/><path d="M443.31 47.8H445.71V50.0H443.31ZM445.26 50.0H447.66V51.6H445.26Z" fill="#0a4fc8"/>
<path d="M448.41 46.9V52.3M450.35 45.0V49.6M452.30 43.3V47.0M454.25 38.3V45.6M456.19 35.6V42.0M458.14 27.7V40.8M460.09 25.8V32.1M462.03 26.0V29.8" stroke="#e6200a" stroke-opacity="0.55" fill="none"/><path d="M447.21 48.8H449.61V51.6H447.21ZM449.15 46.3H451.55V48.8H449.15ZM451.10 44.8H453.50V46.3H451.10ZM453.05 40.7H455.45V44.8H453.05ZM454.99 38.1H457.39V40.7H454.99ZM456.94 30.2H459.34V38.1H456.94ZM458.89 27.8H461.29V30.2H458.89ZM460.83 27.2H463.23V28.2H460.83Z" fill="#e6200a"/>
<path d="M463.98 26.3V30.8" stroke="#0a4fc8" stroke-opacity="0.55" fill="none"/><path d="M462.78 27.2H465.18V29.3H462.78Z" fill="#0a4fc8"/>
<path d="M465.93 27.0V31.3M467.88 20.1V29.5" stroke="#e6200a" stroke-opacity="0.55" fill="none"/><path d="M464.73 27.6H467.13V29.3H464.73ZM466.68 21.0H469.07V27.6H466.68Z" fill="#e6200a"/>
<path d="M469.82 19.0V25.1M471.77 21.8V25.1" stroke="#0a4fc8" stroke-opacity="0.55" fill="none"/><path d="M468.62 21.0H471.02V23.4H468.62ZM470.57 23.4H472.97V24.4H470.57Z" fill="#0a4fc8"/>
<path d="M473.72 16.8V25.3" stroke="#e6200a" stroke-opacity="0.55" fill="none"/><path d="M472.52 18.8H474.92V23.8H472.52Z" fill="#e6200a"/>
<path d="M475.66 18.6V30.2" stroke="#0a4fc8" stroke-opacity="0.55" fill="none"/><path d="M474.46 18.8H476.86V25.9H474.46Z" fill="#0a4fc8"/>
<path d="M477.61 23.1V27.2M479.56 20.1V25.8" stroke="#e6200a" stroke-opacity="0.55" fill="none"/><path d="M476.41 25.0H478.81V26.0H476.41ZM478.36 21.4H480.76V25.0H478.36Z" fill="#e6200a"/>
<path d="M481.50 20.6V27.5M483.45 24.5V33.6M485.40 29.9V34.4" stroke="#0a4fc8" stroke-opacity="0.55" fill="none"/><path d="M480.30 21.4H482.70V26.1H480.30ZM482.25 26.1H484.65V31.3H482.25ZM484.20 31.3H486.60V33.0H484.20Z" fill="#0a4fc8"/>
<path d="M487.35 29.3V35.2M489.29 28.5V32.4" stroke="#e6200a" stroke-opacity="0.55" fill="none"/><path d="M486.15 31.5H488.55V33.0H486.15ZM488.09 30.4H490.49V31.5H488.09Z" fill="#e6200a"/>
<path d="M491.24 30.0V51.4" stroke="#0a4fc8" stroke-opacity="0.55" fill="none"/><path d="M490.04 30.4H492.44V48.6H490.04Z" fill="#0a4fc8"/>
<path d="M493.19 42.2V49.3" stroke="#e6200a" stroke-opacity="0.55" fill="none"/><path d="M491.99 44.5H494.39V48.6H491.99Z" fill="#e6200a"/>
<path d="M495.13 42.6V50.1" stroke="#0a4fc8" stroke-opacity="0.55" fill="none"/><path d="M493.93 44.5H496.33V47.9H493.93Z" fill="#0a4fc8"/>
<path d="M497.08 36.1V50.4" stroke="#e6200a" stroke-opacity="0.55" fill="none"/><path d="M495.88 38.1H498.28V47.9H495.88Z" fill="#e6200a"/>
<path d="M499.03 37.4V40.0M500.97 38.1V42.9" stroke="#0a4fc8" stroke-opacity="0.55" fill="none"/><path d="M497.83 38.1H500.23V39.1H497.83ZM499.77 38.7H502.17V41.9H499.77Z" fill="#0a4fc8"/>
<path d="M502.92 36.1V42.9" stroke="#e6200a" stroke-opacity="0.55" fill="none"/><path d="M501.72 38.2H504.12V41.9H501.72Z" fill="#e6200a"/>
<path d="M504.87 37.0V49.9" stroke="#0a4fc8" stroke-opacity="0.55" fill="none"/><path d="M503.67 38.2H506.07V47.9H503.67Z" fill="#0a4fc8"/>
<path d="M506.82 40.1V50.0" stroke="#e6200a" stroke-opacity="0.55" fill="none"/><path d="M505.62 42.5H508.02V47.9H505.62Z" fill="#e6200a"/>
<path d="M508.76 41.2V50.8M510.71 48.0V57.6" stroke="#0a4fc8" stroke-opacity="0.55" fill="none"/><path d="M507.56 42.5H509.96V49.0H507.56ZM509.51 49.0H511.91V52.6H509.51Z" fill="#0a4fc8"/>
<path d="M512.66 44.9V53.9M514.60 43.5V48.5M516.55 43.4V46.8M518.50 37.6V45.6" stroke="#e6200a" stroke-opacity="0.55" fill="none"/><path d="M511.46 46.5H513.86V52.6H511.46ZM513.40 45.3H515.80V46.5H513.40ZM515.35 45.1H517.75V46.1H515.35ZM517.30 38.5H519.70V45.1H517.30Z" fill="#e6200a"/>
<path d="M520.44 34.0V44.0M522.39 35.2V51.7M524.34 44.9V92.2" stroke="#0a4fc8" stroke-opacity="0.55" fill="none"/><path d="M519.24 38.5H521.64V43.1H519.24ZM521.19 43.1H523.59V51.3H521.19ZM523.14 51.3H525.54V67.1H523.14Z" fill="#0a4fc8"/>
<path d="M526.28 53.4V74.1M528.23 54.0V57.4" stroke="#e6200a" stroke-opacity="0.55" fill="none"/><path d="M525.08 53.9H527.49V67.1H525.08ZM527.03 54.8H529.43V56.6H527.03Z" fill="#e6200a"/>
<line x1="0" y1="308.5" x2="601" y2="308.5" stroke="#b4b4b4" stroke-width="1"/>
<line x1="553.5" y1="3" x2="553.5" y2="487" stroke="#a8a8a8" stroke-width="1"/>
<rect x="0" y="475.7" width="601" height="1" fill="#a8a8a8"/>
<line x1="554" y1="22.15" x2="557.6" y2="22.15" stroke="#a8a8a8" stroke-width="1"/>
<line x1="554" y1="35.52" x2="557.6" y2="35.52" stroke="#a8a8a8" stroke-width="1"/>
<line x1="554" y1="50.47" x2="557.6" y2="50.47" stroke="#a8a8a8" stroke-width="1"/>
<line x1="554" y1="67.41" x2="557.6" y2="67.41" stroke="#a8a8a8" stroke-width="1"/>
<line x1="554" y1="86.97" x2="557.6" y2="86.97" stroke="#a8a8a8" stroke-width="1"/>
<line x1="554" y1="110.11" x2="557.6" y2="110.11" stroke="#a8a8a8" stroke-width="1"/>
<line x1="554" y1="138.43" x2="557.6" y2="138.43" stroke="#a8a8a8" stroke-width="1"/>
<line x1="554" y1="174.93" x2="557.6" y2="174.93" stroke="#a8a8a8" stroke-width="1"/>
<line x1="554" y1="226.39" x2="557.6" y2="226.39" stroke="#a8a8a8" stroke-width="1"/>
<line x1="554" y1="29.3" x2="555.3" y2="29.3" stroke="#a8a8a8" stroke-width="1"/>
<line x1="554" y1="44.4" x2="555.3" y2="44.4" stroke="#a8a8a8" stroke-width="1"/>
<line x1="554" y1="61.2" x2="555.3" y2="61.2" stroke="#a8a8a8" stroke-width="1"/>
<line x1="554" y1="80.9" x2="555.3" y2="80.9" stroke="#a8a8a8" stroke-width="1"/>
<line x1="554" y1="104.3" x2="555.3" y2="104.3" stroke="#a8a8a8" stroke-width="1"/>
<line x1="554" y1="132.5" x2="555.3" y2="132.5" stroke="#a8a8a8" stroke-width="1"/>
<line x1="554" y1="168.9" x2="555.3" y2="168.9" stroke="#a8a8a8" stroke-width="1"/>
<line x1="554" y1="220.4" x2="555.3" y2="220.4" stroke="#a8a8a8" stroke-width="1"/>
<text x="558.5" y="25.5" font-size="8.6" fill="#5a5a5a" font-family="Liberation Sans, NanumGothic, sans-serif" textLength="34.1" lengthAdjust="spacingAndGlyphs">2,500.00</text>
<text x="558.5" y="38.9" font-size="8.6" fill="#5a5a5a" font-family="Liberation Sans, NanumGothic, sans-serif" textLength="34.1" lengthAdjust="spacingAndGlyphs">2,250.00</text>
<text x="558.5" y="53.9" font-size="8.6" fill="#5a5a5a" font-family="Liberation Sans, NanumGothic, sans-serif" textLength="34.1" lengthAdjust="spacingAndGlyphs">2,000.00</text>
<text x="558.5" y="70.8" font-size="8.6" fill="#5a5a5a" font-family="Liberation Sans, NanumGothic, sans-serif" textLength="34.1" lengthAdjust="spacingAndGlyphs">1,750.00</text>
<text x="558.5" y="90.4" font-size="8.6" fill="#5a5a5a" font-family="Liberation Sans, NanumGothic, sans-serif" textLength="34.1" lengthAdjust="spacingAndGlyphs">1,500.00</text>
<text x="558.5" y="113.5" font-size="8.6" fill="#5a5a5a" font-family="Liberation Sans, NanumGothic, sans-serif" textLength="34.1" lengthAdjust="spacingAndGlyphs">1,250.00</text>
<text x="558.5" y="141.8" font-size="8.6" fill="#5a5a5a" font-family="Liberation Sans, NanumGothic, sans-serif" textLength="34.1" lengthAdjust="spacingAndGlyphs">1,000.00</text>
<text x="558.5" y="178.3" font-size="8.6" fill="#5a5a5a" font-family="Liberation Sans, NanumGothic, sans-serif" textLength="27.2" lengthAdjust="spacingAndGlyphs">750.00</text>
<text x="558.5" y="229.8" font-size="8.6" fill="#5a5a5a" font-family="Liberation Sans, NanumGothic, sans-serif" textLength="27.2" lengthAdjust="spacingAndGlyphs">500.00</text>
<line x1="554" y1="457.46" x2="557.6" y2="457.46" stroke="#a8a8a8" stroke-width="1"/>
<line x1="554" y1="439.92" x2="557.6" y2="439.92" stroke="#a8a8a8" stroke-width="1"/>
<line x1="554" y1="422.38" x2="557.6" y2="422.38" stroke="#a8a8a8" stroke-width="1"/>
<line x1="554" y1="404.84" x2="557.6" y2="404.84" stroke="#a8a8a8" stroke-width="1"/>
<line x1="554" y1="387.3" x2="557.6" y2="387.3" stroke="#a8a8a8" stroke-width="1"/>
<line x1="554" y1="369.76" x2="557.6" y2="369.76" stroke="#a8a8a8" stroke-width="1"/>
<line x1="554" y1="352.22" x2="557.6" y2="352.22" stroke="#a8a8a8" stroke-width="1"/>
<line x1="554" y1="334.68" x2="557.6" y2="334.68" stroke="#a8a8a8" stroke-width="1"/>
<line x1="554" y1="317.14" x2="557.6" y2="317.14" stroke="#a8a8a8" stroke-width="1"/>
<line x1="554" y1="471.49" x2="555.3" y2="471.49" stroke="#a8a8a8" stroke-width="1"/>
<line x1="554" y1="467.98" x2="555.3" y2="467.98" stroke="#a8a8a8" stroke-width="1"/>
<line x1="554" y1="464.48" x2="555.3" y2="464.48" stroke="#a8a8a8" stroke-width="1"/>
<line x1="554" y1="460.97" x2="555.3" y2="460.97" stroke="#a8a8a8" stroke-width="1"/>
<line x1="554" y1="453.95" x2="555.3" y2="453.95" stroke="#a8a8a8" stroke-width="1"/>
<line x1="554" y1="450.44" x2="555.3" y2="450.44" stroke="#a8a8a8" stroke-width="1"/>
<line x1="554" y1="446.94" x2="555.3" y2="446.94" stroke="#a8a8a8" stroke-width="1"/>
<line x1="554" y1="443.43" x2="555.3" y2="443.43" stroke="#a8a8a8" stroke-width="1"/>
<line x1="554" y1="436.41" x2="555.3" y2="436.41" stroke="#a8a8a8" stroke-width="1"/>
<line x1="554" y1="432.9" x2="555.3" y2="432.9" stroke="#a8a8a8" stroke-width="1"/>
<line x1="554" y1="429.4" x2="555.3" y2="429.4" stroke="#a8a8a8" stroke-width="1"/>
<line x1="554" y1="425.89" x2="555.3" y2="425.89" stroke="#a8a8a8" stroke-width="1"/>
<line x1="554" y1="418.87" x2="555.3" y2="418.87" stroke="#a8a8a8" stroke-width="1"/>
<line x1="554" y1="415.36" x2="555.3" y2="415.36" stroke="#a8a8a8" stroke-width="1"/>
<line x1="554" y1="411.86" x2="555.3" y2="411.86" stroke="#a8a8a8" stroke-width="1"/>
<line x1="554" y1="408.35" x2="555.3" y2="408.35" stroke="#a8a8a8" stroke-width="1"/>
<line x1="554" y1="401.33" x2="555.3" y2="401.33" stroke="#a8a8a8" stroke-width="1"/>
<line x1="554" y1="397.82" x2="555.3" y2="397.82" stroke="#a8a8a8" stroke-width="1"/>
<line x1="554" y1="394.32" x2="555.3" y2="394.32" stroke="#a8a8a8" stroke-width="1"/>
<line x1="554" y1="390.81" x2="555.3" y2="390.81" stroke="#a8a8a8" stroke-width="1"/>
<line x1="554" y1="383.79" x2="555.3" y2="383.79" stroke="#a8a8a8" stroke-width="1"/>
<line x1="554" y1="380.28" x2="555.3" y2="380.28" stroke="#a8a8a8" stroke-width="1"/>
<line x1="554" y1="376.78" x2="555.3" y2="376.78" stroke="#a8a8a8" stroke-width="1"/>
<line x1="554" y1="373.27" x2="555.3" y2="373.27" stroke="#a8a8a8" stroke-width="1"/>
<line x1="554" y1="366.25" x2="555.3" y2="366.25" stroke="#a8a8a8" stroke-width="1"/>
<line x1="554" y1="362.74" x2="555.3" y2="362.74" stroke="#a8a8a8" stroke-width="1"/>
<line x1="554" y1="359.24" x2="555.3" y2="359.24" stroke="#a8a8a8" stroke-width="1"/>
<line x1="554" y1="355.73" x2="555.3" y2="355.73" stroke="#a8a8a8" stroke-width="1"/>
<line x1="554" y1="348.71" x2="555.3" y2="348.71" stroke="#a8a8a8" stroke-width="1"/>
<line x1="554" y1="345.2" x2="555.3" y2="345.2" stroke="#a8a8a8" stroke-width="1"/>
<line x1="554" y1="341.7" x2="555.3" y2="341.7" stroke="#a8a8a8" stroke-width="1"/>
<line x1="554" y1="338.19" x2="555.3" y2="338.19" stroke="#a8a8a8" stroke-width="1"/>
<line x1="554" y1="331.17" x2="555.3" y2="331.17" stroke="#a8a8a8" stroke-width="1"/>
<line x1="554" y1="327.66" x2="555.3" y2="327.66" stroke="#a8a8a8" stroke-width="1"/>
<line x1="554" y1="324.16" x2="555.3" y2="324.16" stroke="#a8a8a8" stroke-width="1"/>
<line x1="554" y1="320.65" x2="555.3" y2="320.65" stroke="#a8a8a8" stroke-width="1"/>
<line x1="554" y1="313.63" x2="555.3" y2="313.63" stroke="#a8a8a8" stroke-width="1"/>
<line x1="554" y1="310.12" x2="555.3" y2="310.12" stroke="#a8a8a8" stroke-width="1"/>
<text x="558.3" y="461.0" font-size="8.6" fill="#5a5a5a" font-family="Liberation Sans, NanumGothic, sans-serif" textLength="32.2" lengthAdjust="spacingAndGlyphs">25,000K</text>
<text x="558.3" y="443.4" font-size="8.6" fill="#5a5a5a" font-family="Liberation Sans, NanumGothic, sans-serif" textLength="32.2" lengthAdjust="spacingAndGlyphs">50,000K</text>
<text x="558.3" y="425.9" font-size="8.6" fill="#5a5a5a" font-family="Liberation Sans, NanumGothic, sans-serif" textLength="32.2" lengthAdjust="spacingAndGlyphs">75,000K</text>
<text x="558.3" y="408.3" font-size="8.6" fill="#5a5a5a" font-family="Liberation Sans, NanumGothic, sans-serif" textLength="36.4" lengthAdjust="spacingAndGlyphs">100,000K</text>
<text x="558.3" y="390.8" font-size="8.6" fill="#5a5a5a" font-family="Liberation Sans, NanumGothic, sans-serif" textLength="36.4" lengthAdjust="spacingAndGlyphs">125,000K</text>
<text x="558.3" y="373.3" font-size="8.6" fill="#5a5a5a" font-family="Liberation Sans, NanumGothic, sans-serif" textLength="36.4" lengthAdjust="spacingAndGlyphs">150,000K</text>
<text x="558.3" y="355.7" font-size="8.6" fill="#5a5a5a" font-family="Liberation Sans, NanumGothic, sans-serif" textLength="36.4" lengthAdjust="spacingAndGlyphs">175,000K</text>
<text x="558.3" y="338.2" font-size="8.6" fill="#5a5a5a" font-family="Liberation Sans, NanumGothic, sans-serif" textLength="36.4" lengthAdjust="spacingAndGlyphs">200,000K</text>
<text x="558.3" y="320.6" font-size="8.6" fill="#5a5a5a" font-family="Liberation Sans, NanumGothic, sans-serif" textLength="36.4" lengthAdjust="spacingAndGlyphs">225,000K</text>
<line x1="554" y1="475" x2="557.6" y2="475" stroke="#c4c4c4" stroke-width="1"/>
<rect x="554.2" y="3" width="46.8" height="17.6" fill="#fff"/>
<text x="554.4" y="11.3" font-size="8.8" fill="#e8402c" font-family="Liberation Sans, NanumGothic, sans-serif" textLength="36.9" lengthAdjust="spacingAndGlyphs">LC:596.97</text>
<text x="554.4" y="19.1" font-size="8.8" fill="#3c78d8" font-family="Liberation Sans, NanumGothic, sans-serif" textLength="37" lengthAdjust="spacingAndGlyphs">HC:-25.85</text>
<rect x="556.5" y="49.9" width="44.5" height="7.8" fill="#1458c8"/>
<text x="559" y="57.2" font-size="8.6" fill="#fff" font-family="Liberation Sans, NanumGothic, sans-serif" textLength="29.5" lengthAdjust="spacingAndGlyphs">1,933.19</text>
<rect x="558" y="57.7" width="27" height="8.3" fill="#fff"/>
<text x="559.4" y="65.1" font-size="8.6" fill="#2c6cd8" font-family="Liberation Sans, NanumGothic, sans-serif" textLength="24" lengthAdjust="spacingAndGlyphs">-0.74%</text>
<rect x="6.5" y="4.5" width="50.5" height="9" fill="#ececec" stroke="#cfcfcf" stroke-width="1"/>
<text x="9.5" y="12.3" font-size="9" fill="#404040" font-family="Liberation Sans, NanumGothic, sans-serif" textLength="45.5" lengthAdjust="spacingAndGlyphs">종합(KOSPI)</text>
<rect x="1.5" y="7" width="3" height="3.6" fill="#d8d8d8" stroke="#8c8c8c" stroke-width="0.8"/>
<text x="9" y="317.4" font-size="8.6" fill="#70708a" font-family="Liberation Sans, NanumGothic, sans-serif" textLength="31" lengthAdjust="spacingAndGlyphs">거래대금</text>
<rect x="1.5" y="312.2" width="3" height="3.6" fill="#d8d8d8" stroke="#8c8c8c" stroke-width="0.8"/>
<rect x="597" y="310.5" width="4" height="4" fill="#505050"/><rect x="598.3" y="311.8" width="2.7" height="1.2" fill="#c8c8c8"/>
<text x="383.4" y="21.9" font-size="8.8" fill="#ee2410" font-family="Liberation Sans, NanumGothic, sans-serif" textLength="76.9" lengthAdjust="spacingAndGlyphs">최고 2,607.10 (01/02)</text>
<path d="M463.3 19H473" stroke="#e8301c" stroke-width="1" fill="none"/>
<text x="26.7" y="303.2" font-size="8.8" fill="#1828f0" font-family="Liberation Sans, NanumGothic, sans-serif" textLength="69.3" lengthAdjust="spacingAndGlyphs">최저 277.37 (06/01)</text>
<path d="M17.3 300.3L21.2 297V303.6Z" fill="#1828f0"/><path d="M21 300.3H26" stroke="#1828f0" stroke-width="1.2" fill="none"/>
<text x="0.7" y="484.8" font-size="8.8" fill="#5a5a5a" font-family="Liberation Sans, NanumGothic, sans-serif" textLength="19" lengthAdjust="spacingAndGlyphs">1997</text>
<line x1="29.4" y1="476.5" x2="29.4" y2="488" stroke="#b8b8b8" stroke-width="1"/>
<text x="30.0" y="484.8" font-size="8.8" fill="#5a5a5a" font-family="Liberation Sans, NanumGothic, sans-serif" textLength="19" lengthAdjust="spacingAndGlyphs">1999</text>
<line x1="52.8" y1="476.5" x2="52.8" y2="488" stroke="#b8b8b8" stroke-width="1"/>
<text x="53.4" y="484.8" font-size="8.8" fill="#5a5a5a" font-family="Liberation Sans, NanumGothic, sans-serif" textLength="19" lengthAdjust="spacingAndGlyphs">2000</text>
<line x1="76.1" y1="476.5" x2="76.1" y2="488" stroke="#b8b8b8" stroke-width="1"/>
<text x="76.7" y="484.8" font-size="8.8" fill="#5a5a5a" font-family="Liberation Sans, NanumGothic, sans-serif" textLength="19" lengthAdjust="spacingAndGlyphs">2001</text>
<line x1="99.5" y1="476.5" x2="99.5" y2="488" stroke="#b8b8b8" stroke-width="1"/>
<text x="100.1" y="484.8" font-size="8.8" fill="#5a5a5a" font-family="Liberation Sans, NanumGothic, sans-serif" textLength="19" lengthAdjust="spacingAndGlyphs">2002</text>
<line x1="122.8" y1="476.5" x2="122.8" y2="488" stroke="#b8b8b8" stroke-width="1"/>
<text x="123.4" y="484.8" font-size="8.8" fill="#5a5a5a" font-family="Liberation Sans, NanumGothic, sans-serif" textLength="19" lengthAdjust="spacingAndGlyphs">2003</text>
<line x1="146.2" y1="476.5" x2="146.2" y2="488" stroke="#b8b8b8" stroke-width="1"/>
<text x="146.8" y="484.8" font-size="8.8" fill="#5a5a5a" font-family="Liberation Sans, NanumGothic, sans-serif" textLength="19" lengthAdjust="spacingAndGlyphs">2004</text>
<line x1="169.5" y1="476.5" x2="169.5" y2="488" stroke="#b8b8b8" stroke-width="1"/>
<text x="170.1" y="484.8" font-size="8.8" fill="#5a5a5a" font-family="Liberation Sans, NanumGothic, sans-serif" textLength="19" lengthAdjust="spacingAndGlyphs">2005</text>
<line x1="192.9" y1="476.5" x2="192.9" y2="488" stroke="#b8b8b8" stroke-width="1"/>
<text x="193.5" y="484.8" font-size="8.8" fill="#5a5a5a" font-family="Liberation Sans, NanumGothic, sans-serif" textLength="19" lengthAdjust="spacingAndGlyphs">2006</text>
<line x1="216.2" y1="476.5" x2="216.2" y2="488" stroke="#b8b8b8" stroke-width="1"/>
<text x="216.8" y="484.8" font-size="8.8" fill="#5a5a5a" font-family="Liberation Sans, NanumGothic, sans-serif" textLength="19" lengthAdjust="spacingAndGlyphs">2007</text>
<line x1="239.6" y1="476.5" x2="239.6" y2="488" stroke="#b8b8b8" stroke-width="1"/>
<text x="240.2" y="484.8" font-size="8.8" fill="#5a5a5a" font-family="Liberation Sans, NanumGothic, sans-serif" textLength="19" lengthAdjust="spacingAndGlyphs">2008</text>
<line x1="262.9" y1="476.5" x2="262.9" y2="488" stroke="#b8b8b8" stroke-width="1"/>
<text x="263.5" y="484.8" font-size="8.8" fill="#5a5a5a" font-family="Liberation Sans, NanumGothic, sans-serif" textLength="19" lengthAdjust="spacingAndGlyphs">2009</text>
<line x1="286.3" y1="476.5" x2="286.3" y2="488" stroke="#b8b8b8" stroke-width="1"/>
<text x="286.9" y="484.8" font-size="8.8" fill="#5a5a5a" font-family="Liberation Sans, NanumGothic, sans-serif" textLength="19" lengthAdjust="spacingAndGlyphs">2010</text>
<line x1="309.6" y1="476.5" x2="309.6" y2="488" stroke="#b8b8b8" stroke-width="1"/>
<text x="310.2" y="484.8" font-size="8.8" fill="#5a5a5a" font-family="Liberation Sans, NanumGothic, sans-serif" textLength="19" lengthAdjust="spacingAndGlyphs">2011</text>
<line x1="333.0" y1="476.5" x2="333.0" y2="488" stroke="#b8b8b8" stroke-width="1"/>
<text x="333.6" y="484.8" font-size="8.8" fill="#5a5a5a" font-family="Liberation Sans, NanumGothic, sans-serif" textLength="19" lengthAdjust="spacingAndGlyphs">2012</text>
<line x1="356.3" y1="476.5" x2="356.3" y2="488" stroke="#b8b8b8" stroke-width="1"/>
<text x="356.9" y="484.8" font-size="8.8" fill="#5a5a5a" font-family="Liberation Sans, NanumGothic, sans-serif" textLength="19" lengthAdjust="spacingAndGlyphs">2013</text>
<line x1="379.7" y1="476.5" x2="379.7" y2="488" stroke="#b8b8b8" stroke-width="1"/>
<text x="380.3" y="484.8" font-size="8.8" fill="#5a5a5a" font-family="Liberation Sans, NanumGothic, sans-serif" textLength="19" lengthAdjust="spacingAndGlyphs">2014</text>
<line x1="403.0" y1="476.5" x2="403.0" y2="488" stroke="#b8b8b8" stroke-width="1"/>
<text x="403.6" y="484.8" font-size="8.8" fill="#5a5a5a" font-family="Liberation Sans, NanumGothic, sans-serif" textLength="19" lengthAdjust="spacingAndGlyphs">2015</text>
<line x1="426.4" y1="476.5" x2="426.4" y2="488" stroke="#b8b8b8" stroke-width="1"/>
<text x="427.0" y="484.8" font-size="8.8" fill="#5a5a5a" font-family="Liberation Sans, NanumGothic, sans-serif" textLength="19" lengthAdjust="spacingAndGlyphs">2016</text>
<line x1="449.7" y1="476.5" x2="449.7" y2="488" stroke="#b8b8b8" stroke-width="1"/>
<text x="450.3" y="484.8" font-size="8.8" fill="#5a5a5a" font-family="Liberation Sans, NanumGothic, sans-serif" textLength="19" lengthAdjust="spacingAndGlyphs">2017</text>
<line x1="473.1" y1="476.5" x2="473.1" y2="488" stroke="#b8b8b8" stroke-width="1"/>
<text x="473.7" y="484.8" font-size="8.8" fill="#5a5a5a" font-family="Liberation Sans, NanumGothic, sans-serif" textLength="19" lengthAdjust="spacingAndGlyphs">2018</text>
<line x1="496.4" y1="476.5" x2="496.4" y2="488" stroke="#b8b8b8" stroke-width="1"/>
<text x="497.0" y="484.8" font-size="8.8" fill="#5a5a5a" font-family="Liberation Sans, NanumGothic, sans-serif" textLength="19" lengthAdjust="spacingAndGlyphs">2019</text>
<line x1="519.8" y1="476.5" x2="519.8" y2="488" stroke="#b8b8b8" stroke-width="1"/>
<text x="520.4" y="484.8" font-size="8.8" fill="#5a5a5a" font-family="Liberation Sans, NanumGothic, sans-serif" textLength="19" lengthAdjust="spacingAndGlyphs">2020</text>
<text x="558.8" y="484.8" font-size="8.8" fill="#5a5a5a" font-family="Liberation Sans, NanumGothic, sans-serif" textLength="23.3" lengthAdjust="spacingAndGlyphs">05/04</text>
<rect x="34.8" y="16.8" width="21.700000000000003" height="457" fill="rgba(0,176,240,0.22)" stroke="#385d8a" stroke-width="3" stroke-linejoin="round"/>
<rect x="92.8" y="16.8" width="20.700000000000003" height="457" fill="rgba(0,176,240,0.22)" stroke="#385d8a" stroke-width="3" stroke-linejoin="round"/>
<rect x="178.7" y="16.8" width="21.5" height="457" fill="rgba(0,176,240,0.22)" stroke="#385d8a" stroke-width="3" stroke-linejoin="round"/>
<rect x="224.5" y="16.8" width="21.80000000000001" height="457" fill="rgba(0,176,240,0.22)" stroke="#385d8a" stroke-width="3" stroke-linejoin="round"/>
<rect x="311.8" y="16.8" width="20.69999999999999" height="457" fill="rgba(0,176,240,0.22)" stroke="#385d8a" stroke-width="3" stroke-linejoin="round"/>
<rect x="401.7" y="16.8" width="21.0" height="457" fill="rgba(0,176,240,0.22)" stroke="#385d8a" stroke-width="3" stroke-linejoin="round"/>
<rect x="470.7" y="16.8" width="21.80000000000001" height="457" fill="rgba(0,176,240,0.22)" stroke="#385d8a" stroke-width="3" stroke-linejoin="round"/>
<rect x="515.9" y="16.8" width="21.600000000000023" height="457" fill="rgba(255,0,0,0.21)" stroke="#385d8a" stroke-width="3" stroke-linejoin="round"/>
</g>
</svg>
</body></html>
